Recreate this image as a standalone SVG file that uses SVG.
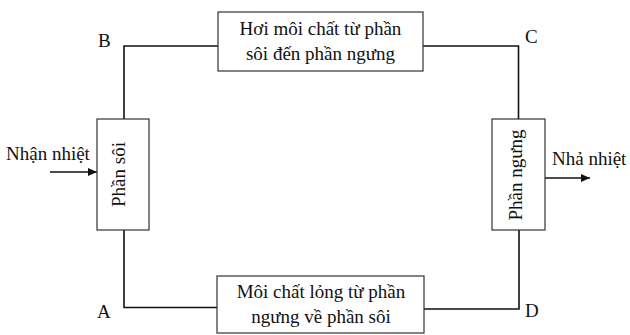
<svg xmlns="http://www.w3.org/2000/svg" width="630" height="335" viewBox="0 0 630 335">
<style>
.box{fill:#fff;stroke:#333;stroke-width:1.2}
.ln{fill:none;stroke:#111;stroke-width:1.6}
.t{font-family:'Liberation Serif','Times New Roman','DejaVu Serif',serif;font-size:19px;fill:#111}
.c{text-anchor:middle}
</style>
<defs>
<marker id="ah" markerWidth="10" markerHeight="10" refX="9" refY="5" orient="auto" markerUnits="userSpaceOnUse">
<path d="M0,1 L9,5 L0,9 Z" fill="#111"/>
</marker>
</defs>
<g id="connectors">
<polyline class="ln" points="124,119 124,46 218,46"/>
<polyline class="ln" points="423,46 518.5,46 518.5,119"/>
<polyline class="ln" points="124,230 124,307.5 217,307.5"/>
<polyline class="ln" points="424,309 519,309 519,230"/>
<line class="ln" x1="50" y1="172" x2="97" y2="172" marker-end="url(#ah)"/>
<line class="ln" x1="545" y1="178" x2="590" y2="178" marker-end="url(#ah)"/>
</g>
<g id="top" class="t" font-family="Liberation Serif">
<rect class="box" x="218" y="12" width="205" height="59"/>
<text class="c" x="320.5" y="35">Hơi môi chất từ phần</text>
<text class="c" x="320.5" y="60">sôi đến phần ngưng</text>
</g>
<g id="bottom" class="t" font-family="Liberation Serif">
<rect class="box" x="217" y="276" width="207" height="57"/>
<text class="c" x="321" y="298">Môi chất lỏng từ phần</text>
<text class="c" x="321" y="323">ngưng về phần sôi</text>
</g>
<g id="left" class="t" font-family="Liberation Serif">
<rect class="box" x="97" y="119" width="52" height="111"/>
<text class="c" transform="translate(124.5,174.5) rotate(-90)">Phần sôi</text>
</g>
<g id="right" class="t" font-family="Liberation Serif">
<rect class="box" x="492" y="119" width="53" height="111"/>
<text class="c" transform="translate(522,175) rotate(-90)">Phần ngưng</text>
</g>
<g id="labels" class="t" font-family="Liberation Serif">
<text x="98" y="47">B</text>
<text x="525" y="43">C</text>
<text x="97" y="318">A</text>
<text x="525" y="317">D</text>
<text x="6" y="160">Nhận nhiệt</text>
<text x="552" y="165">Nhả nhiệt</text>
</g>
</svg>
